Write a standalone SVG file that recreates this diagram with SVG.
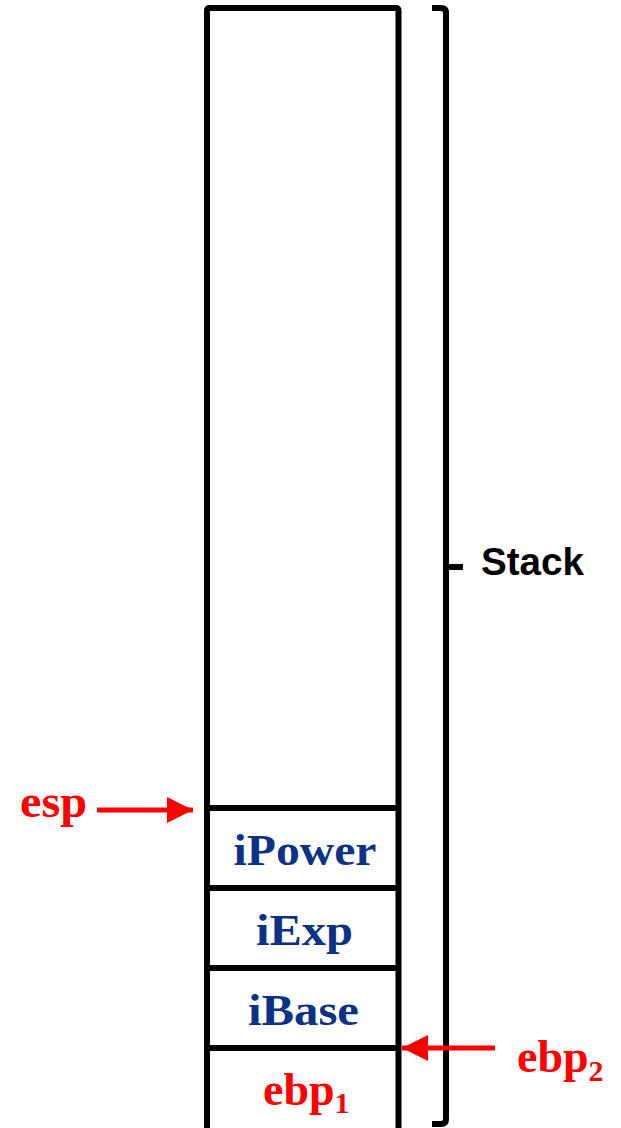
<svg xmlns="http://www.w3.org/2000/svg" width="621" height="1128" viewBox="0 0 621 1128">
  <style>
    .frame { fill: #ffffff; stroke: #000000; stroke-width: 6; }
    .divider { stroke: #000000; stroke-width: 6; }
    .brace { fill: none; stroke: #000000; stroke-width: 6; stroke-linejoin: round; }
    .slot { font-family: "Liberation Serif", "Times New Roman", serif; font-weight: bold; font-size: 45px; fill: #0c3185; text-anchor: middle; }
    .reg { font-family: "Liberation Serif", "Times New Roman", serif; font-weight: bold; font-size: 46px; fill: #ff0000; }
    .sub { font-size: 30px; }
    .label { font-family: "Liberation Sans", Arial, sans-serif; font-weight: bold; font-size: 39px; fill: #000000; }
    .ptr { stroke: #ff0000; stroke-width: 5; }
  </style>
  <defs>
    <marker id="head" viewBox="0 0 26 26" refX="26" refY="13" markerWidth="26" markerHeight="26" markerUnits="userSpaceOnUse" orient="auto">
      <path d="M0,0 L26,13 L0,26 Z" fill="#ff0000"/>
    </marker>
  </defs>

  <!-- stack column -->
  <g id="stack-column">
    <rect class="frame" x="207" y="8" width="191.5" height="1130" rx="2"/>
    <line class="divider" x1="207" y1="808" x2="398.5" y2="808"/>
    <line class="divider" x1="207" y1="888" x2="398.5" y2="888"/>
    <line class="divider" x1="207" y1="968" x2="398.5" y2="968"/>
    <line class="divider" x1="207" y1="1048" x2="398.5" y2="1048"/>
  </g>

  <g id="slot-ipower"><text class="slot" x="305" y="865" textLength="143" lengthAdjust="spacingAndGlyphs">iPower</text></g>
  <g id="slot-iexp"><text class="slot" x="304.5" y="945" textLength="97" lengthAdjust="spacingAndGlyphs">iExp</text></g>
  <g id="slot-ibase"><text class="slot" x="303.5" y="1025" textLength="111" lengthAdjust="spacingAndGlyphs">iBase</text></g>
  <g id="slot-ebp1"><text class="reg" x="263" y="1105">ebp<tspan class="sub" dy="8">1</tspan></text></g>

  <!-- brace spanning the whole stack -->
  <g id="stack-brace">
    <path class="brace" d="M432,8 L441,8 Q446,8 446,13 L446,567 L463,567 M446,567 L446,1119 Q446,1124 441,1124 L432,1124"/>
    <text class="label" x="481" y="575" textLength="103" lengthAdjust="spacingAndGlyphs">Stack</text>
  </g>

  <g id="reg-esp"><text class="reg" x="20" y="817" textLength="67" lengthAdjust="spacingAndGlyphs">esp</text></g>
  <g id="reg-ebp2"><text class="reg" x="517" y="1072">ebp<tspan class="sub" dy="9">2</tspan></text></g>

  <!-- register pointers -->
  <g id="connectors">
    <line class="ptr" x1="97" y1="810" x2="193" y2="810" marker-end="url(#head)"/>
    <line class="ptr" x1="495" y1="1048" x2="402" y2="1048" marker-end="url(#head)"/>
  </g>
</svg>
